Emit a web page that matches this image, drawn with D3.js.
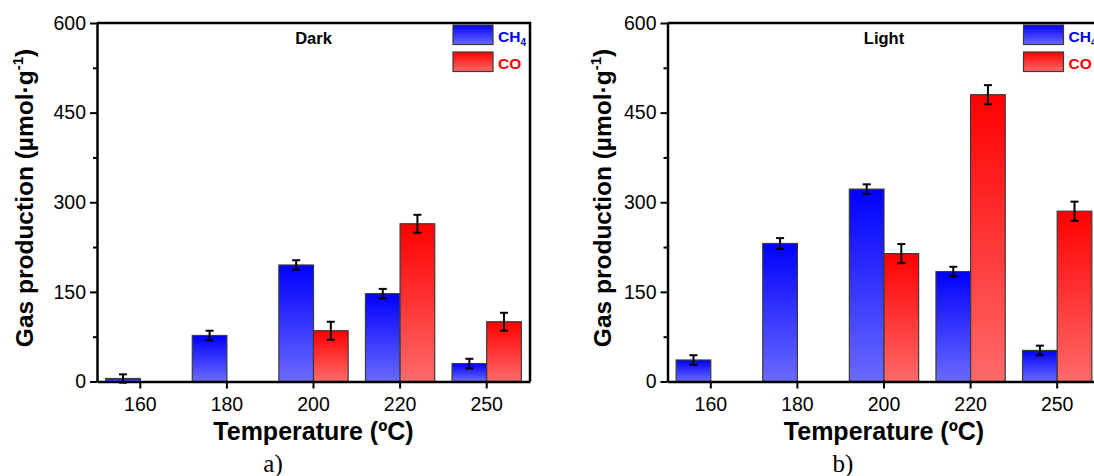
<!DOCTYPE html>
<html>
<head>
<meta charset="utf-8">
<script src="https://cdn.jsdelivr.net/npm/d3@7"></script>
<style>
  body { margin: 0; background: #fff; }
  svg { display: block; font-family: "Liberation Sans", Arial, sans-serif; }
</style>
</head>
<body>
<svg id="contenedor"></svg>
<script>
// categorias: temperatura (ºC)
let temperaturas = ["160", "180", "200", "220", "250"];

// a) Dark
let darkCH4 = [5, 77, 195, 147, 30];
let darkCH4Err = [7, 8, 8, 8, 8];
let darkCO = [null, null, 85, 264, 100];
let darkCOErr = [null, null, 15, 15, 15];

// b) Light
let lightCH4 = [36, 231, 322, 184, 52];
let lightCH4Err = [8, 9, 8, 8, 8];
let lightCO = [null, null, 214, 480, 285];
let lightCOErr = [null, null, 16, 16, 16];

// ejes
let yTicks = [0, 150, 300, 450, 600];
let yMinorTicks = [75, 225, 375, 525];
let series = ["CH4", "CO"];

// colores de las series (arriba / abajo del degradado)
let colores = {
  CH4: { top: "#0000ff", bottom: "#6a6aff", text: "#0000ff" },
  CO: { top: "#ff0000", bottom: "#ff6a6a", text: "#ff0000" },
};

let width = 1094;
let height = 476;

let svg = d3.select("#contenedor").attr("width", width).attr("height", height);

// degradados verticales
let defs = svg.append("defs");
series.forEach((s) => {
  let g = defs
    .append("linearGradient")
    .attr("id", "grad" + s)
    .attr("x1", 0).attr("y1", 0)
    .attr("x2", 0).attr("y2", 1);
  g.append("stop").attr("offset", "0%").attr("stop-color", colores[s].top);
  g.append("stop").attr("offset", "100%").attr("stop-color", colores[s].bottom);
});

// construir filas de barras a partir de los arrays
function getFilas(ch4, ch4Err, co, coErr) {
  let filas = [];
  temperaturas.forEach((t, i) => {
    if (ch4[i] != null) filas.push({ t, serie: "CH4", valor: ch4[i], err: ch4Err[i] });
    if (co[i] != null) filas.push({ t, serie: "CO", valor: co[i], err: coErr[i] });
  });
  return filas;
}

function dibujarPanel(panel, filas) {
  let { left, right, top, bottom } = panel;

  let xScale = d3.scaleBand().domain(temperaturas).range([left, right]).padding(0);
  let yScale = d3.scaleLinear().domain([0, 600]).range([bottom, top]);
  let bw = xScale.bandwidth() * 0.4;
  let centro = (t) => xScale(t) + xScale.bandwidth() / 2;

  let g = svg.append("g");

  // barras
  g.selectAll(".bar")
    .data(filas)
    .enter()
    .append("rect")
    .attr("class", "bar")
    .attr("x", (d) => (d.serie === "CH4" ? centro(d.t) - bw : centro(d.t)))
    .attr("y", (d) => yScale(d.valor))
    .attr("width", bw)
    .attr("height", (d) => yScale(0) - yScale(d.valor))
    .attr("fill", (d) => "url(#grad" + d.serie + ")")
    .attr("stroke", "#3a3a3a")
    .attr("stroke-width", 1.2);

  // barras de error
  let err = g.selectAll(".err")
    .data(filas)
    .enter()
    .append("g")
    .attr("class", "err")
    .attr("transform", (d) => `translate(${d.serie === "CH4" ? centro(d.t) - bw / 2 : centro(d.t) + bw / 2},0)`)
    .attr("stroke", "#000")
    .attr("stroke-width", 2);
  err.append("line")
    .attr("y1", (d) => yScale(d.valor - d.err))
    .attr("y2", (d) => yScale(d.valor + d.err));
  err.append("line")
    .attr("x1", -4).attr("x2", 4)
    .attr("y1", (d) => yScale(d.valor + d.err))
    .attr("y2", (d) => yScale(d.valor + d.err));
  err.append("line")
    .attr("x1", -4).attr("x2", 4)
    .attr("y1", (d) => yScale(d.valor - d.err))
    .attr("y2", (d) => yScale(d.valor - d.err));

  // marco superior y derecho
  g.append("path")
    .attr("d", `M${left},${top}H${right}V${bottom}`)
    .attr("fill", "none")
    .attr("stroke", "#000")
    .attr("stroke-width", 2.5);

  // eje Y menor
  g.append("g")
    .attr("transform", `translate(${left},0)`)
    .call(d3.axisLeft(yScale).tickValues(yMinorTicks).tickFormat("").tickSize(4).tickSizeOuter(0))
    .call((a) => a.select(".domain").remove())
    .selectAll("line").attr("stroke-width", 2);

  // eje Y
  let axisY = g.append("g")
    .attr("transform", `translate(${left},0)`)
    .call(d3.axisLeft(yScale).tickValues(yTicks).tickSize(7).tickPadding(4).tickSizeOuter(0));
  axisY.select(".domain").attr("stroke-width", 2.5);
  axisY.selectAll("line").attr("stroke-width", 2);
  axisY.selectAll("text").attr("font-size", 19.5).attr("font-family", "Liberation Sans").attr("fill", "#000");

  // eje X
  let axisX = g.append("g")
    .attr("transform", `translate(0,${bottom})`)
    .call(d3.axisBottom(xScale).tickSize(7).tickPadding(9).tickSizeOuter(0));
  axisX.select(".domain").attr("stroke-width", 2.5);
  axisX.selectAll("line").attr("stroke-width", 2);
  axisX.selectAll("text").attr("font-size", 19.5).attr("font-family", "Liberation Sans").attr("fill", "#000");

  // titulo del panel
  g.append("text")
    .attr("x", (left + right) / 2)
    .attr("y", 43.5)
    .attr("text-anchor", "middle")
    .attr("font-weight", "bold")
    .attr("font-size", 16.5)
    .text(panel.titulo);

  // leyenda
  series.forEach((s, i) => {
    let y0 = 25 + i * 27;
    g.append("rect")
      .attr("x", right - 77)
      .attr("y", y0)
      .attr("width", 40)
      .attr("height", 19.5)
      .attr("fill", "url(#grad" + s + ")")
      .attr("stroke", "#3a3a3a")
      .attr("stroke-width", 1.2);
    let txt = g.append("text")
      .attr("x", right - 32)
      .attr("y", y0 + 16.5)
      .attr("font-weight", "bold")
      .attr("font-size", 15.5)
      .attr("fill", colores[s].text);
    if (s === "CH4") {
      txt.append("tspan").text("CH");
      txt.append("tspan").attr("font-size", 10).attr("dy", 4).text("4");
    } else {
      txt.text("CO");
    }
  });

  // titulo eje X
  g.append("text")
    .attr("x", (left + right) / 2)
    .attr("y", 440)
    .attr("text-anchor", "middle")
    .attr("font-weight", "bold")
    .attr("font-size", 25)
    .text("Temperature (ºC)");

  // titulo eje Y
  let yt = g.append("text")
    .attr("transform", `translate(${panel.yTitleX},198) rotate(-90)`)
    .attr("text-anchor", "middle")
    .attr("font-weight", "bold")
    .attr("font-size", 24.5);
  yt.append("tspan").text("Gas production (µmol·g");
  yt.append("tspan").attr("font-size", 15).attr("dy", -10).text("-1");
  yt.append("tspan").attr("dy", 10).text(")");

  // etiqueta a) / b)
  g.append("text")
    .attr("x", panel.labelX)
    .attr("y", 472)
    .attr("text-anchor", "middle")
    .attr("font-family", "Liberation Serif")
    .attr("font-size", 25)
    .text(panel.etiqueta);
}

dibujarPanel(
  { left: 97, right: 530, top: 23, bottom: 381.5, titulo: "Dark", etiqueta: "a)", labelX: 273, yTitleX: 33 },
  getFilas(darkCH4, darkCH4Err, darkCO, darkCOErr)
);
dibujarPanel(
  { left: 667.5, right: 1100.5, top: 23, bottom: 381.5, titulo: "Light", etiqueta: "b)", labelX: 843, yTitleX: 611 },
  getFilas(lightCH4, lightCH4Err, lightCO, lightCOErr)
);
</script>
</body>
</html>
